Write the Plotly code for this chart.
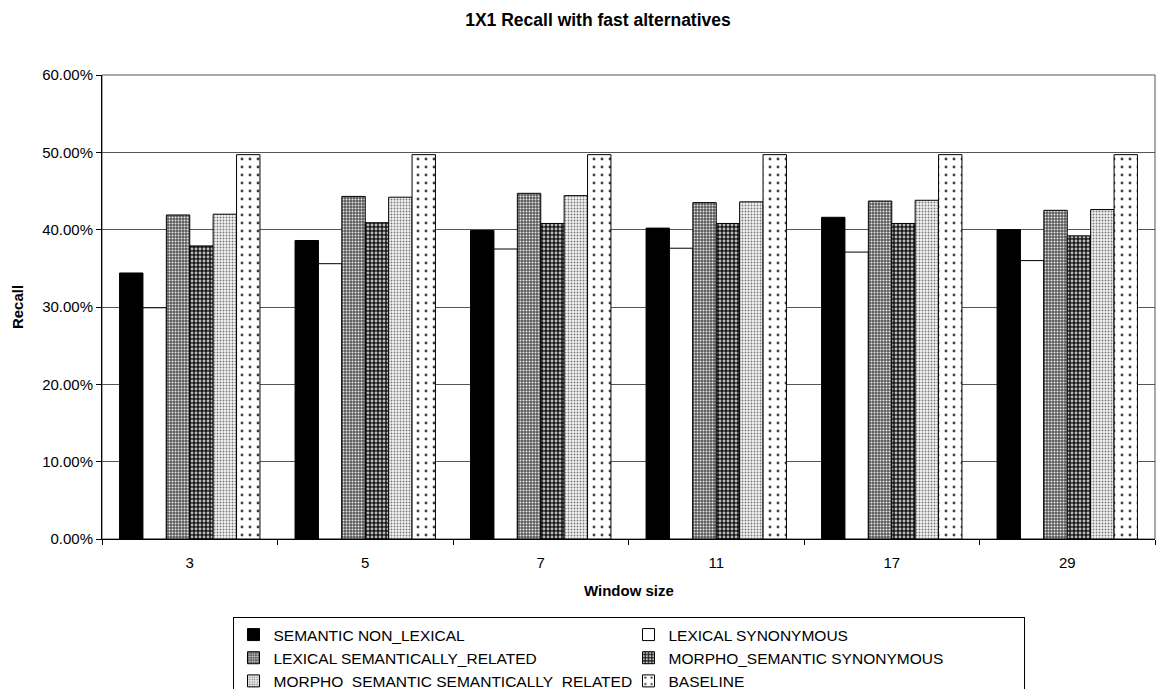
import plotly.graph_objects as go

# Window sizes on the x axis
window_sizes = ["3", "5", "7", "11", "17", "29"]

# Recall per window size, one list per alternative (fractions)
semantic_non_lexical = [0.344, 0.386, 0.399, 0.402, 0.416, 0.400]
lexical_synonymous = [0.299, 0.356, 0.375, 0.376, 0.371, 0.360]
lexical_semantically_related = [0.419, 0.443, 0.447, 0.435, 0.437, 0.425]
morpho_semantic_synonymous = [0.379, 0.409, 0.408, 0.408, 0.408, 0.392]
morpho_semantic_semantically_related = [0.420, 0.442, 0.444, 0.436, 0.438, 0.426]
baseline = [0.497, 0.497, 0.497, 0.497, 0.497, 0.497]

FONT = "Liberation Sans, Arial, sans-serif"
W, H = 1166, 689

series = [
    ("SEMANTIC NON_LEXICAL", semantic_non_lexical,
     dict(shape="", fgcolor="black", bgcolor="black")),
    ("LEXICAL SYNONYMOUS", lexical_synonymous,
     dict(shape="", fgcolor="white", bgcolor="white")),
    ("LEXICAL SEMANTICALLY_RELATED", lexical_semantically_related,
     dict(shape=".", fgcolor="#e8e8e8", bgcolor="#5a5a5a", size=3, solidity=0.35)),
    ("MORPHO_SEMANTIC SYNONYMOUS", morpho_semantic_synonymous,
     dict(shape=".", fgcolor="#bdbdbd", bgcolor="#1a1a1a", size=4, solidity=0.4)),
    ("MORPHO_SEMANTIC SEMANTICALLY_RELATED", morpho_semantic_semantically_related,
     dict(shape=".", fgcolor="#7a7a7a", bgcolor="#f2f2f2", size=3, solidity=0.3)),
    ("BASELINE", baseline,
     dict(shape=".", fgcolor="#404040", bgcolor="white", size=8, solidity=0.1)),
]

fig = go.Figure()
for name, values, pattern in series:
    fig.add_trace(go.Bar(
        name=name,
        x=window_sizes,
        y=values,
        marker=dict(
            color=pattern["bgcolor"],
            line=dict(color="black", width=1),
            pattern=dict(fillmode="replace", **pattern),
        ),
    ))

L, R, T, B = 102, 11, 75, 150
plot_w = W - L - R
plot_h = H - T - B

fig.update_layout(
    width=W,
    height=H,
    margin=dict(l=L, r=R, t=T, b=B),
    paper_bgcolor="white",
    plot_bgcolor="white",
    barmode="group",
    bargap=0.2,
    bargroupgap=0,
    font=dict(family=FONT, size=15, color="black"),
    title=dict(
        text="<b>1X1 Recall with fast alternatives</b>",
        x=598 / W, xref="container", y=1 - 20 / H, yref="container",
        xanchor="center", yanchor="middle",
        font=dict(family=FONT, size=17.5, color="black"),
    ),
    showlegend=True,
    legend=dict(
        orientation="h",
        x=0.5, xanchor="center",
        y=1 - 617 / H, yref="container", yanchor="top",
        bgcolor="white",
        bordercolor="black",
        borderwidth=1,
        entrywidth=350,
        itemwidth=30,
        font=dict(family=FONT, size=15.5, color="black"),
        traceorder="normal",
    ),
    xaxis=dict(
        type="category",
        showline=True, linecolor="black", linewidth=1,
        ticks="outside", tickson="boundaries", ticklen=5, tickcolor="black",
        ticklabelstandoff=10,
        tickfont=dict(family=FONT, size=15),
        showgrid=False,
    ),
    yaxis=dict(
        range=[0, 0.6],
        dtick=0.1,
        tickformat=".2%",
        showline=True, linecolor="black", linewidth=1,
        ticks="outside", ticklen=5, tickcolor="black",
        tickfont=dict(family=FONT, size=15),
        showgrid=True, gridcolor="#555555", gridwidth=1,
        zeroline=False,
        title=dict(text="<b>Recall</b>", font=dict(family=FONT, size=15), standoff=14),
    ),
)

# Axis title under the category labels
fig.add_annotation(
    text="<b>Window size</b>",
    xref="paper", yref="paper",
    x=0.5, y=-(590 - (H - B)) / plot_h,
    xanchor="center", yanchor="middle",
    showarrow=False,
    font=dict(family=FONT, size=15, color="black"),
)

# Grey frame around the plotting area
fig.add_shape(type="rect", xref="paper", yref="paper", x0=0, x1=1, y0=0, y1=1,
              line=dict(color="#555555", width=1), layer="below")

fig.write_html("out.html")
